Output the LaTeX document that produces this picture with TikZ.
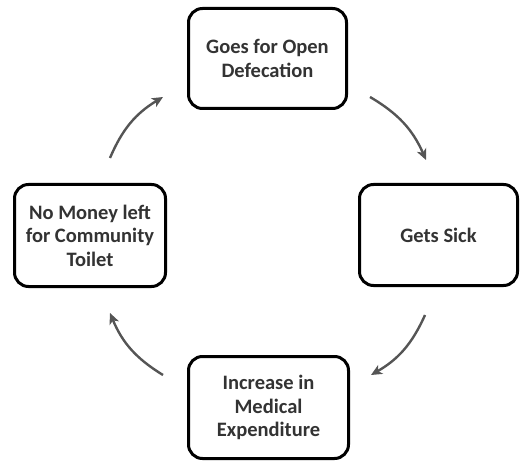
\documentclass[tikz,border=0pt]{standalone}
\usepackage{fontspec}
\setmainfont{Carlito}
\usetikzlibrary{arrows.meta}
\definecolor{txt}{HTML}{333333}
\definecolor{arr}{HTML}{555555}
\tikzset{
  cyclebox/.style={draw=black, line width=3pt, rounded corners=14pt, fill=white,
    align=center, text=txt, font=\bfseries\fontsize{20.5}{23.5}\selectfont, inner sep=0pt},
  cyclearrow/.style={draw=arr, line width=2.4pt, -{Stealth[length=11pt,width=10pt,inset=3pt]}}
}
\begin{document}
\begin{tikzpicture}[x=1pt,y=1pt]
\useasboundingbox (0,0) rectangle (521,466);
\node[cyclebox, minimum width=158pt, minimum height=100pt] (top) at (267.5,407.5) {Goes for Open\\Defecation};
\node[cyclebox, minimum width=158pt, minimum height=101pt] (right) at (438.5,231) {Gets Sick};
\node[cyclebox, minimum width=160pt, minimum height=102pt] (bottom) at (268.5,58.5) {Increase in\\Medical\\Expenditure};
\node[cyclebox, minimum width=151pt, minimum height=102pt] (left) at (90,230.5) {No Money left\\for Community\\Toilet};
\coordinate (a1s) at (370,369);
\coordinate (a1e) at (426,306);
\coordinate (a2s) at (425,151);
\coordinate (a2e) at (371,91);
\coordinate (a3s) at (163,91);
\coordinate (a3e) at (110,153);
\coordinate (a4s) at (110,308);
\coordinate (a4e) at (163,369);
\draw[cyclearrow] (a1s) to[bend left=18] (a1e);
\draw[cyclearrow] (a2s) to[bend left=18] (a2e);
\draw[cyclearrow] (a3s) to[bend left=18] (a3e);
\draw[cyclearrow] (a4s) to[bend left=18] (a4e);
\end{tikzpicture}
\end{document}
